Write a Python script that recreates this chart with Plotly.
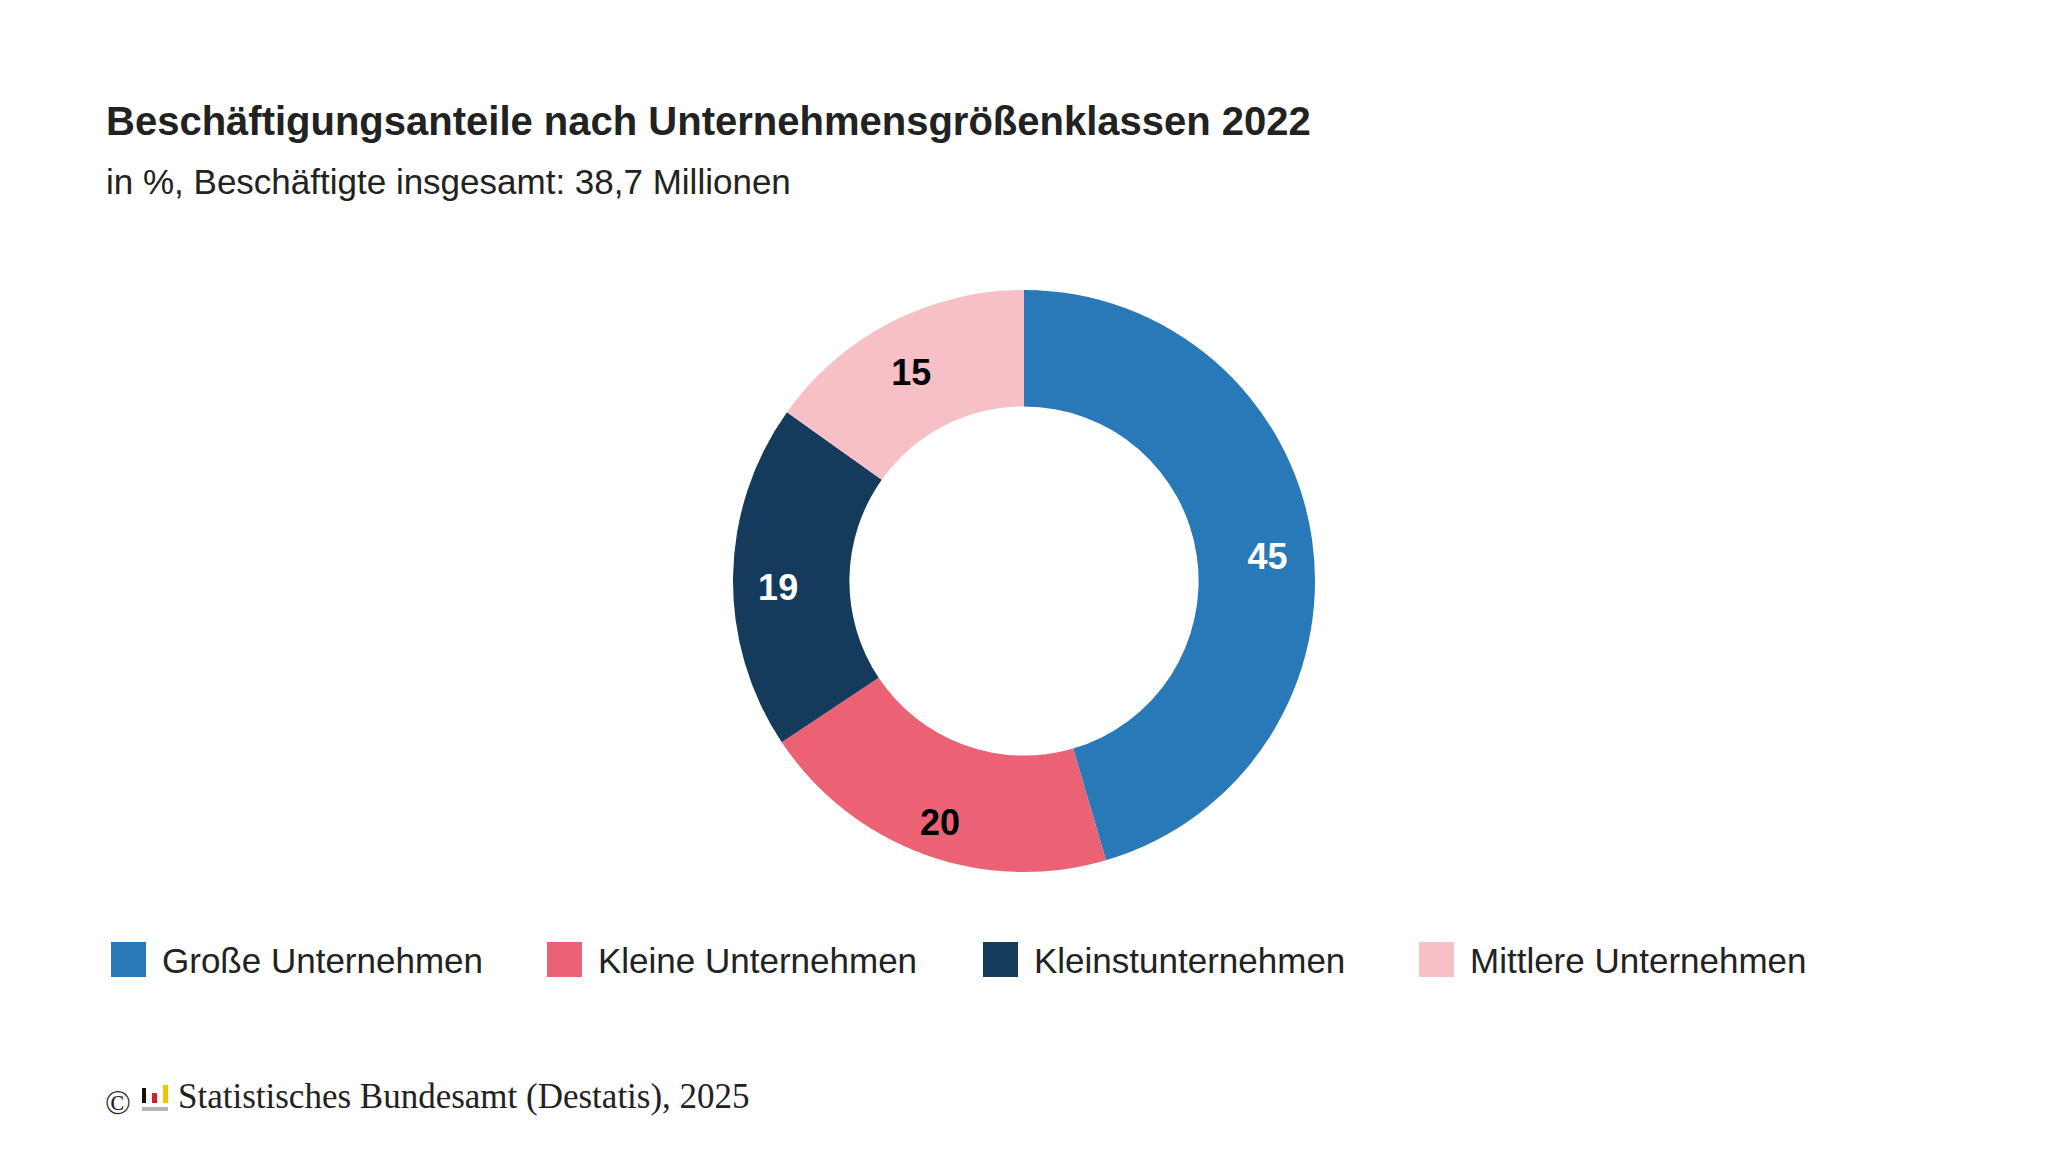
"""Donut chart: Beschäftigungsanteile nach Unternehmensgrößenklassen 2022 (Destatis)."""

import plotly.graph_objects as go

# data
LABELS = ["Große Unternehmen", "Kleine Unternehmen", "Kleinstunternehmen", "Mittlere Unternehmen"]
SHARES = [45, 20, 19, 15]
COLORS = ["#2979B9", "#EC6275", "#143A5C", "#F7BFC6"]
TEXT_COLORS = ["#FFFFFF", "#000000", "#FFFFFF", "#000000"]

TITLE = "Beschäftigungsanteile nach Unternehmensgrößenklassen 2022"
SUBTITLE = "in %, Beschäftigte insgesamt: 38,7 Millionen"
SOURCE = "Statistisches Bundesamt (Destatis), 2025"

# the page body keeps its 8px margin, so the plot area is slightly smaller than the window
OFF = 8
W, H = 2048 - 2 * OFF, 1152 - 2 * OFF
SANS = "Liberation Sans, Arial, sans-serif"
SERIF = "Liberation Serif, Times New Roman, serif"


def px(x):
    return (x - OFF) / W


def py(y):
    return 1 - (y - OFF) / H


def domain(cy, r):
    return dict(x=[0, 1], y=[py(cy) - r / H, py(cy) + r / H])


CY, R = 581, 291

fig = go.Figure()
# the coloured ring
fig.add_trace(
    go.Pie(
        labels=LABELS,
        values=SHARES,
        hole=0.6,
        sort=False,
        direction="clockwise",
        rotation=0,
        marker=dict(colors=COLORS, line=dict(width=0)),
        textinfo="none",
        hoverinfo="skip",
        showlegend=False,
        domain=domain(CY, R),
    )
)
# transparent ring on top only carries the labels, a bit further out/lower as in the original
fig.add_trace(
    go.Pie(
        labels=LABELS,
        values=SHARES,
        hole=0.69,
        sort=False,
        direction="clockwise",
        rotation=0,
        marker=dict(colors=["rgba(0,0,0,0)"] * len(LABELS), line=dict(width=0)),
        texttemplate="%{value}",
        textposition="inside",
        insidetextorientation="horizontal",
        textfont=dict(family=SANS, size=36, color=TEXT_COLORS, weight="bold"),
        hoverinfo="skip",
        showlegend=False,
        domain=domain(CY + 10, R),
    )
)

annotations = [
    dict(x=px(104), y=py(121), text=f"<b>{TITLE}</b>",
         font=dict(family=SANS, size=40, color="#222222")),
    dict(x=px(104), y=py(182), text=SUBTITLE,
         font=dict(family=SANS, size=35, color="#222222")),
    dict(x=px(103), y=py(1102), text="©",
         font=dict(family=SERIF, size=34, color="#222222")),
    dict(x=px(176), y=py(1096), text=SOURCE,
         font=dict(family=SERIF, size=35, color="#222222")),
]

shapes = []
# legend drawn by hand so the swatches can be as large as in the original
STEP = 436
for i, (label, color) in enumerate(zip(LABELS, COLORS)):
    x0 = 111 + i * STEP
    shapes.append(dict(type="rect", xref="paper", yref="paper",
                       x0=px(x0), x1=px(x0 + 35), y0=py(977), y1=py(942),
                       fillcolor=color, line=dict(width=0)))
    annotations.append(dict(x=px(x0 + 49), y=py(960), text=label,
                            font=dict(family=SANS, size=35, color="#222222")))

# Destatis logo next to the source line
for x0, x1, y0, y1, c in [
    (142, 146, 1088, 1103, "#111111"),
    (152, 157, 1093, 1103, "#D0202E"),
    (163, 168, 1085, 1103, "#F2C200"),
    (142, 168, 1107, 1111, "#B4B4B4"),
]:
    shapes.append(dict(type="rect", xref="paper", yref="paper",
                       x0=px(x0), x1=px(x1), y0=py(y1), y1=py(y0),
                       fillcolor=c, line=dict(width=0)))

for a in annotations:
    a.update(xref="paper", yref="paper", xanchor="left", yanchor="middle", showarrow=False)

fig.update_layout(
    annotations=annotations,
    shapes=shapes,
    margin=dict(l=0, r=0, t=0, b=0),
    paper_bgcolor="white",
    plot_bgcolor="white",
    font=dict(family=SANS),
)

fig.write_html("out.html")
